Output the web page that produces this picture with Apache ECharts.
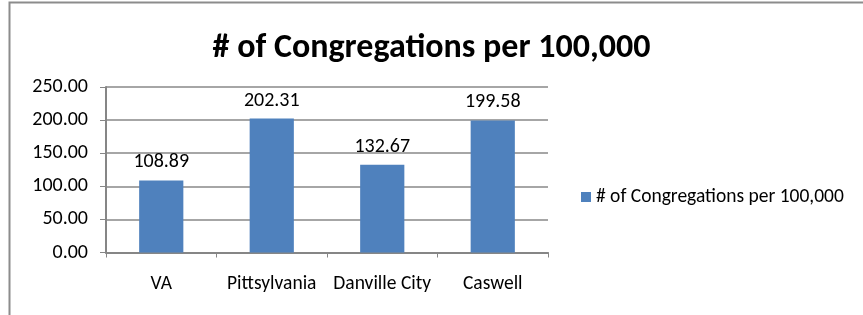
<!DOCTYPE html>
<html>
<head>
<meta charset="utf-8">
<script src="https://cdn.jsdelivr.net/npm/echarts@6/dist/echarts.min.js"></script>
<style>
  html, body { margin: 0; padding: 0; background: #fff; }
  #chart { width: 863px; height: 315px; }
</style>
</head>
<body>
<div id="chart"></div>
<script>
// chart data
var seriesName = '# of Congregations per 100,000';
var categories = ['VA', 'Pittsylvania', 'Danville City', 'Caswell'];
var values = [108.89, 202.31, 132.67, 199.58];

var font = "Carlito, 'Open Sans', sans-serif";
var chart = echarts.init(document.getElementById('chart'));
chart.setOption({
    animation: false,
    textStyle: { fontFamily: font },
    title: {
        text: seriesName,
        left: 'center',
        top: 26,
        textStyle: { fontSize: 34, fontWeight: 'bold', color: '#000', fontFamily: font }
    },
    legend: {
        left: 576,
        top: 182,
        itemWidth: 10,
        itemHeight: 10,
        itemGap: 5,
        icon: 'rect',
        textStyle: { fontSize: 19.5, color: '#000' },
        data: [seriesName]
    },
    grid: { left: 106, top: 87, right: 315, bottom: 62.5, containLabel: false },
    xAxis: {
        type: 'category',
        data: categories,
        axisLine: { lineStyle: { color: '#868686', width: 2 } },
        axisTick: { show: true, length: 5, lineStyle: { color: '#868686' } },
        axisLabel: { fontSize: 19.5, color: '#000', margin: 22, interval: 0, hideOverlap: false }
    },
    yAxis: {
        type: 'value',
        min: 0,
        max: 250,
        interval: 50,
        axisLine: { show: true, lineStyle: { color: '#868686', width: 2 } },
        axisTick: { show: true, length: 6, lineStyle: { color: '#868686' } },
        axisLabel: { fontSize: 20, color: '#000', margin: 18, formatter: function (v) { return v.toFixed(2); } },
        splitLine: { lineStyle: { color: '#a6a6a6', width: 2 } }
    },
    series: [{
        name: seriesName,
        type: 'bar',
        data: values,
        barWidth: '40%',
        itemStyle: { color: '#4f81bd' },
        label: {
            show: true,
            position: 'top',
            distance: 8,
            fontSize: 20,
            color: '#000',
            formatter: function (p) { return p.value.toFixed(2); }
        }
    }],
    graphic: [{
        type: 'rect',
        shape: { x: 9.5, y: 2.5, width: 900, height: 400 },
        style: { fill: 'none', stroke: '#8c8c8c', lineWidth: 2 }
    }]
});
</script>
</body>
</html>
